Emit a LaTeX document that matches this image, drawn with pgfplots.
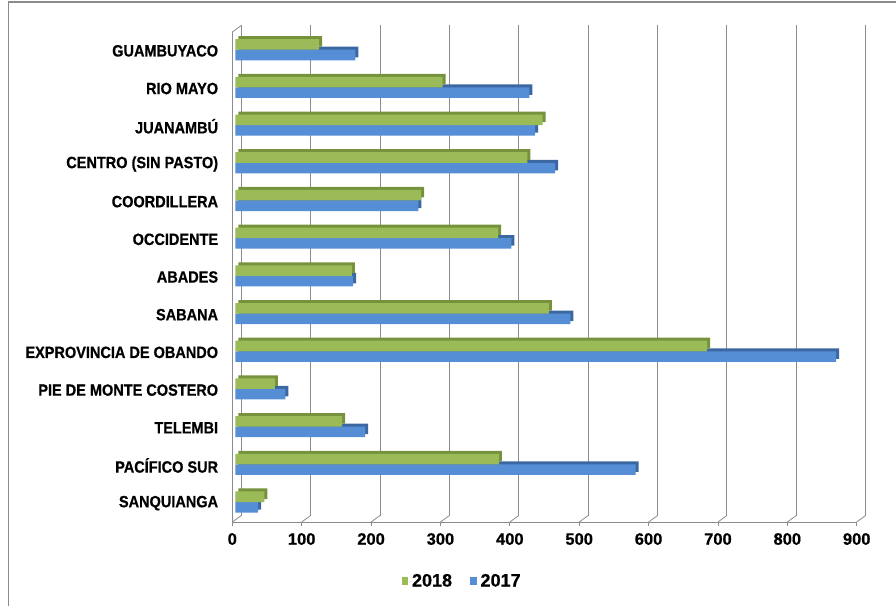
\documentclass[border=0pt]{standalone}
\usepackage{pgfplots}
\pgfplotsset{compat=1.18}
\usepackage{fontspec}
\setmainfont{Liberation Sans}[BoldFeatures={FakeBold=0.6}]
\newfontfamily\labfont{Liberation Sans}[FakeStretch=0.89, BoldFeatures={FakeBold=0.6}]

\definecolor{gfront}{HTML}{9BBB59}
\definecolor{gside}{HTML}{76923C}
\definecolor{bfront}{HTML}{558ED5}
\definecolor{bside}{HTML}{3C68A2}
\definecolor{gridc}{HTML}{8C8C8C}

% 2018 and 2017, category 0 = SANQUIANGA (bottom) ... 12 = GUAMBUYACO (top)
\pgfplotstableread{
idx v2018 v2017
0   42   33
1   380  577
2   154  187
3   57   72
4   680  866
5   452  483
6   168  170
7   379  398
8   268  264
9   421  461
10  443  432
11  299  424
12  121  173
}\datatab

\begin{document}
\begin{tikzpicture}
\path[use as bounding box] (0pt,0pt) rectangle (896pt,605pt);
\draw[gridc, line width=1.2pt] (8.5pt,-5pt) -- (8.5pt,603pt) -- (905pt,603pt);
\begin{axis}[
  at={(232.3pt,83pt)}, anchor=south west,
  scale only axis,
  width=624.4pt, height=490pt,
  xmin=0, xmax=900, ymin=-0.5, ymax=12.5,
  xtick={0,100,...,900},
  ytick={0,...,12},
  minor ytick={-0.5,0.5,...,12.5},
  yticklabels={SANQUIANGA,PACÍFICO SUR,TELEMBI,PIE DE MONTE COSTERO,EXPROVINCIA DE OBANDO,SABANA,ABADES,OCCIDENTE,COORDILLERA,CENTRO (SIN PASTO),JUANAMBÚ,RIO MAYO,GUAMBUYACO},
  axis x line*=bottom, axis y line*=left,
  axis line style={gridc, line width=0.8pt, -},
  tick style={gridc, line width=0.8pt},
  ytick style={draw=none},
  tick align=outside, major tick length=4pt, minor tick length=4pt,
  xmajorgrids,
  major x grid style={gridc, line width=0.9pt, xshift=9pt, yshift=6.5pt},
  /pgf/number format/assume math mode=true,
  xticklabel style={font=\fontsize{16.5}{18}\selectfont\bfseries, inner sep=0pt, anchor=north, yshift=-7pt},
  yticklabel style={font=\labfont\fontsize{16.3}{18}\selectfont\bfseries, inner sep=0pt, anchor=east, xshift=-10pt},
  xbar, bar width=0.28,
  legend style={at={(0.368,-0.1204)}, anchor=center, draw=none, fill=none,
    font=\fontsize{18}{20}\selectfont\bfseries, legend columns=2,
    /tikz/every odd column/.append style={column sep=2pt},
    /tikz/every even column/.append style={column sep=16pt}},
  legend image code/.code={\path[#1, draw=none] (0pt,-4pt) rectangle (6.5pt,4pt);},
  clip=false,
]
% 3D connectors of the back wall
\pgfplotsinvokeforeach{0,100,...,900}{
  \draw[gridc, line width=0.8pt] (axis cs:#1,-0.5) -- ++(9pt,6.5pt);
}
\draw[gridc, line width=0.8pt] (axis cs:0,12.5) -- ++(9pt,6.5pt);
% blue (2017) depth and front
\addplot[forget plot, draw=none, fill=bside, bar shift=-0.11, xshift=6pt, yshift=3pt] table[x=v2017, y=idx] {\datatab};
\addplot[forget plot, draw=none, fill=bfront, bar shift=-0.11, xshift=3pt] table[x=v2017, y=idx] {\datatab};
% green (2018) depth and front
\addplot[forget plot, draw=none, fill=gside, bar shift=0.17, xshift=6pt, yshift=3pt] table[x=v2018, y=idx] {\datatab};
\addplot[forget plot, draw=none, fill=gfront, bar shift=0.17, xshift=3pt] table[x=v2018, y=idx] {\datatab};
\addlegendimage{fill=gfront}
\addlegendentry{2018}
\addlegendimage{fill=bfront}
\addlegendentry{2017}
\end{axis}
\end{tikzpicture}
\end{document}
